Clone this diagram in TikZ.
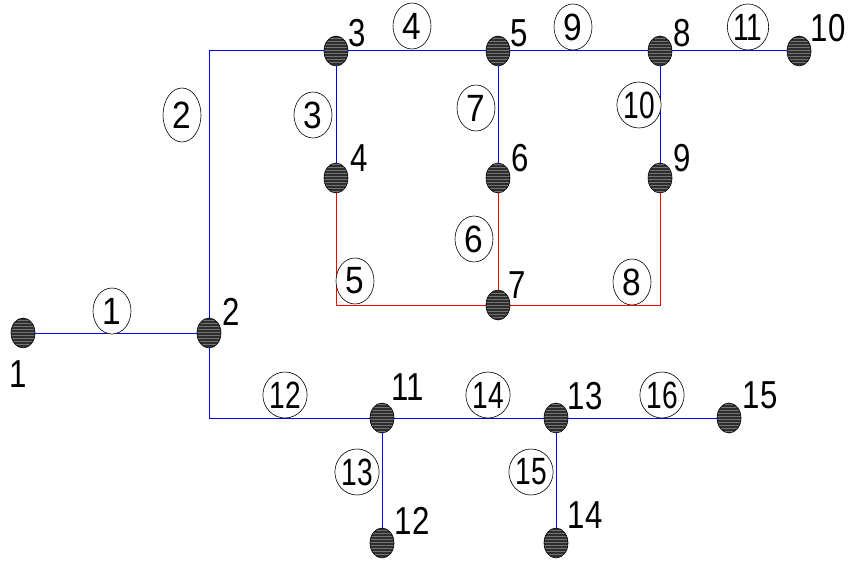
\documentclass[tikz,border=0pt]{standalone}
\usepackage{fontspec}
\setmainfont{Liberation Sans}
\usepackage{graphicx}
\usetikzlibrary{shapes.geometric,backgrounds,patterns}
\newcommand{\tw}[1]{\scalebox{0.74}[1]{#1}}
\newcommand{\ow}[1]{\scalebox{0.88}[1]{#1}}
\begin{document}
\begin{tikzpicture}[x=1pt,y=-1pt,
 dot/.style={ellipse,draw=black,preaction={fill=black!82},pattern=horizontal lines,pattern color=black!55,minimum width=24pt,minimum height=30pt,inner sep=0pt,line width=0.6pt},
 num/.style={font=\fontsize{39}{39}\selectfont,inner sep=0pt,xscale=0.8},
 elab/.style={ellipse,draw=black,fill=white,line width=0.6pt,minimum width=38pt,minimum height=46pt,inner sep=0pt,font=\fontsize{38}{38}\selectfont},
 bl/.style={draw=blue,line width=1pt},
 rd/.style={draw=red,line width=1pt}]
\useasboundingbox (0,0) rectangle (850,561);
% dots
\node[dot] (n1) at (23,333) {};
\node[dot] (n2) at (209,333) {};
\node[dot] (n3) at (336,51) {};
\node[dot] (n4) at (336,178) {};
\node[dot] (n5) at (498,51) {};
\node[dot] (n6) at (498,178) {};
\node[dot] (n7) at (498,305) {};
\node[dot] (n8) at (660,51) {};
\node[dot] (n9) at (660,178) {};
\node[dot] (n10) at (799,51) {};
\node[dot] (n11) at (382,418) {};
\node[dot] (n12) at (382,543) {};
\node[dot] (n13) at (556,418) {};
\node[dot] (n14) at (556,543) {};
\node[dot] (n15) at (729,418) {};
% connectors
\begin{scope}[on background layer]
\draw[bl] (n1.center) -- (n2.center);
\draw[bl] (n2.center) |- (n3.center);
\draw[bl] (n3.center) -- (n5.center);
\draw[bl] (n5.center) -- (n8.center);
\draw[bl] (n8.center) -- (n10.center);
\draw[bl] (n3.center) -- (n4.center);
\draw[bl] (n5.center) -- (n6.center);
\draw[bl] (n8.center) -- (n9.center);
\draw[bl] (n2.center) |- (n11.center);
\draw[bl] (n11.center) -- (n13.center);
\draw[bl] (n13.center) -- (n15.center);
\draw[bl] (n11.center) -- (n12.center);
\draw[bl] (n13.center) -- (n14.center);
\draw[rd] (n4.center) |- (n7.center);
\draw[rd] (n6.center) -- (n7.center);
\draw[rd] (n9.center) |- (n7.center);
\end{scope}
% node numbers
\node[num] (t1) at (18,374) {1};
\node[num] (t2) at (231,312) {2};
\node[num] (t3) at (357,33) {3};
\node[num] (t4) at (359,158) {4};
\node[num] (t5) at (519,33) {5};
\node[num] (t6) at (520,158) {6};
\node[num] (t7) at (517,285) {7};
\node[num] (t8) at (682,33) {8};
\node[num] (t9) at (682,158) {9};
\node[num] (t10) at (828,28) {10};
\node[num] (t11) at (408,387) {11};
\node[num] (t12) at (412,521) {12};
\node[num] (t13) at (585,396) {13};
\node[num] (t14) at (585,515) {14};
\node[num] (t15) at (760,395) {15};
% edge labels
\node[elab] (e1) at (112,311) {\ow{1}};
\node[elab,minimum height=54pt] (e2) at (182,115) {\ow{2}};
\node[elab] (e3) at (313,115) {\ow{3}};
\node[elab] (e4) at (412,26) {\ow{4}};
\node[elab] (e5) at (355,281) {\ow{5}};
\node[elab] (e6) at (474,239) {\ow{6}};
\node[elab] (e7) at (476,108) {\ow{7}};
\node[elab] (e8) at (632,282) {\ow{8}};
\node[elab] (e9) at (573,27) {\ow{9}};
\node[elab] (e10) at (639,105) {\tw{10}};
\node[elab] (e11) at (748,27) {\tw{11}};
\node[elab] (e12) at (285,395) {\tw{12}};
\node[elab] (e13) at (357,472) {\tw{13}};
\node[elab] (e14) at (488,395) {\tw{14}};
\node[elab] (e15) at (531,472) {\tw{15}};
\node[elab] (e16) at (662,395) {\tw{16}};
\end{tikzpicture}
\end{document}
